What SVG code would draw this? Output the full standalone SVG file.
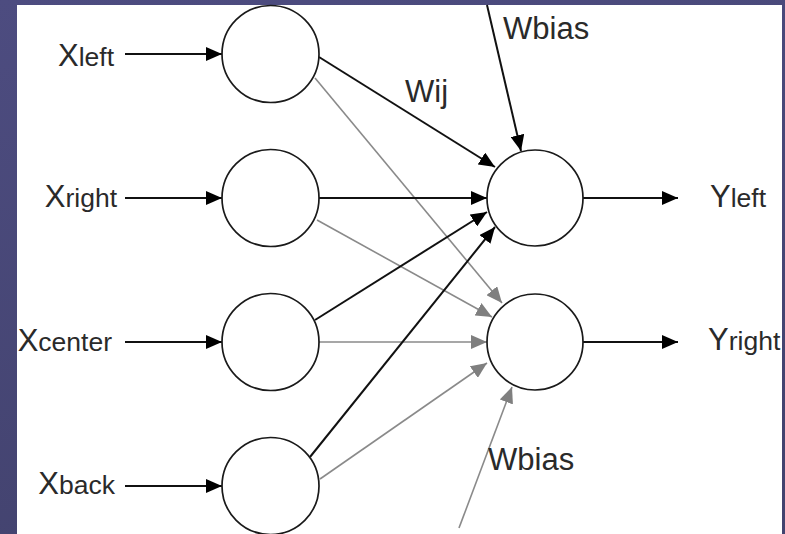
<svg xmlns="http://www.w3.org/2000/svg" width="785" height="534" viewBox="0 0 785 534">
  <defs>
    <linearGradient id="bg" x1="0" y1="0" x2="0.3" y2="1">
      <stop offset="0" stop-color="#4d4c80"/>
      <stop offset="1" stop-color="#43436f"/>
    </linearGradient>
    <marker id="ahB" markerUnits="userSpaceOnUse" markerWidth="17" markerHeight="14" refX="16" refY="7" orient="auto">
      <path d="M0,0 L16,7 L0,14 z" fill="#000"/>
    </marker>
    <marker id="ahG" markerUnits="userSpaceOnUse" markerWidth="17" markerHeight="14" refX="16" refY="7" orient="auto">
      <path d="M0,0 L16,7 L0,14 z" fill="#7f7f7f"/>
    </marker>
    <style>
      .node { fill: #fff; stroke: #1a1a1a; stroke-width: 1.7; }
      .lb { stroke: #111; stroke-width: 2; fill: none; marker-end: url(#ahB); }
      .lg { stroke: #8a8a8a; stroke-width: 1.6; fill: none; marker-end: url(#ahG); }
      .t { font-family: "Liberation Sans", Arial, sans-serif; fill: #2a2a2a; }
      .big { font-size: 31px; }
      .sub { font-size: 26.5px; }
    </style>
  </defs>

  <rect x="0" y="0" width="785" height="534" fill="url(#bg)"/>
  <rect x="17" y="5" width="765" height="529" fill="#fff"/>

  <g id="connectors">
    <!-- inputs -->
    <line class="lb" x1="125" y1="54" x2="222" y2="54"/>
    <line class="lb" x1="125" y1="198" x2="222" y2="198"/>
    <line class="lb" x1="125" y1="342" x2="222" y2="342"/>
    <line class="lb" x1="125" y1="486" x2="222" y2="486"/>
    <!-- gray to output 2 -->
    <line class="lg" x1="315" y1="78" x2="502" y2="303"/>
    <line class="lg" x1="317" y1="220" x2="492" y2="317"/>
    <line class="lg" x1="319" y1="342" x2="487" y2="342"/>
    <line class="lg" x1="320" y1="479" x2="487" y2="363"/>
    <line class="lg" x1="459" y1="528" x2="512" y2="387"/>
    <!-- black to output 1 -->
    <line class="lb" x1="319" y1="57" x2="495" y2="167"/>
    <line class="lb" x1="319" y1="198" x2="487" y2="198"/>
    <line class="lb" x1="315" y1="320" x2="487" y2="212"/>
    <line class="lb" x1="310" y1="457" x2="495" y2="227"/>
    <line class="lb" x1="487" y1="5" x2="521" y2="151"/>
    <!-- outputs -->
    <line class="lb" x1="583" y1="198" x2="678" y2="198"/>
    <line class="lb" x1="583" y1="342" x2="678" y2="342"/>
  </g>

  <g id="in-left"><circle class="node" cx="270.5" cy="54" r="48.5"/></g>
  <g id="in-right"><circle class="node" cx="270.5" cy="198" r="48.5"/></g>
  <g id="in-center"><circle class="node" cx="270.5" cy="342" r="48.5"/></g>
  <g id="in-back"><circle class="node" cx="270.5" cy="486" r="48.5"/></g>
  <g id="out-left"><circle class="node" cx="535" cy="198" r="48"/></g>
  <g id="out-right"><circle class="node" cx="535" cy="342" r="48"/></g>

  <g id="labels">
    <text class="t" x="114" y="66" text-anchor="end"><tspan class="big">X</tspan><tspan class="sub">left</tspan></text>
    <text class="t" x="117" y="207" text-anchor="end"><tspan class="big">X</tspan><tspan class="sub">right</tspan></text>
    <text class="t" x="112" y="351" text-anchor="end"><tspan class="big">X</tspan><tspan class="sub">center</tspan></text>
    <text class="t" x="115" y="494" text-anchor="end"><tspan class="big">X</tspan><tspan class="sub">back</tspan></text>
    <text class="t" x="710" y="207"><tspan class="big">Y</tspan><tspan class="sub">left</tspan></text>
    <text class="t" x="708" y="350"><tspan class="big">Y</tspan><tspan class="sub">right</tspan></text>
    <text class="t big" x="405" y="102">Wij</text>
    <text class="t big" x="503" y="39">Wbias</text>
    <text class="t big" x="488" y="470">Wbias</text>
  </g>
</svg>
